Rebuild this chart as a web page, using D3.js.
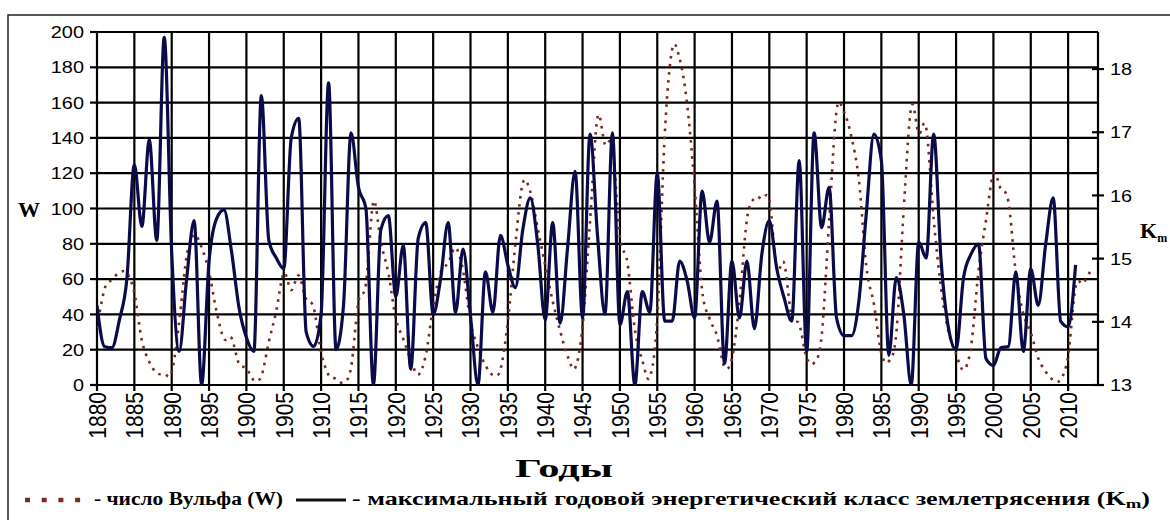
<!DOCTYPE html>
<html>
<head>
<meta charset="utf-8">
<script src="https://cdn.jsdelivr.net/npm/d3@7/dist/d3.min.js"></script>
<style>
  body { margin: 0; background: #fff; }
  svg { display: block; }
</style>
</head>
<body>
<svg id="chart" width="1170" height="520"></svg>
<script>
// ---- data ----
const wolfStart = 1880;                 // число Вульфа, годовые значения 1880-2013
const wolf = [
  32.3, 54.3, 59.7, 63.7, 63.5, 52.2, 25.4, 13.1, 6.8, 6.3,
  7.1, 35.6, 73.0, 85.1, 78.0, 64.0, 41.8, 26.2, 26.7, 12.1,
  9.5, 2.7, 5.0, 24.4, 42.0, 63.5, 53.8, 62.0, 48.5, 43.9,
  18.6, 5.7, 3.6, 1.4, 9.6, 47.4, 57.1, 103.9, 80.6, 63.6,
  37.6, 26.1, 14.2, 5.8, 16.7, 44.3, 63.9, 69.0, 77.8, 64.9,
  35.7, 21.2, 11.1, 5.7, 8.7, 36.1, 79.7, 114.4, 109.6, 88.8,
  67.8, 47.5, 30.6, 16.3, 9.6, 33.2, 92.6, 151.6, 136.3, 134.7,
  83.9, 69.4, 31.5, 13.9, 4.4, 38.0, 141.7, 190.2, 184.8, 159.0,
  112.3, 53.9, 37.6, 27.9, 10.2, 15.1, 47.0, 93.8, 105.9, 105.5,
  104.5, 66.6, 68.9, 38.0, 34.5, 15.5, 12.6, 27.5, 92.5, 155.4,
  154.6, 140.4, 115.9, 66.6, 45.9, 17.9, 13.4, 29.4, 100.2, 157.6,
  142.6, 145.7, 94.3, 54.6, 29.9, 17.5, 8.6, 21.5, 64.3, 93.3,
  119.6, 111.0, 104.0, 63.7, 40.4, 29.8, 15.2, 7.5, 2.9, 3.1,
  16.5, 55.7, 57.6, 64.7
];

const kmStart = 1880;                   // максимальный годовой энергетический класс Km, 1880-2011
const km = [
  14.26, 13.61, 13.59, 14.03, 14.68, 16.49, 15.51, 16.88, 15.29, 18.50,
  15.09, 13.53, 14.68, 15.60, 13.00, 14.96, 15.63, 15.77, 15.12, 14.23,
  13.75, 13.53, 17.58, 15.29, 15.01, 14.84, 16.91, 17.22, 13.84, 13.61,
  14.12, 17.78, 13.56, 14.26, 16.99, 16.13, 15.79, 13.00, 15.46, 15.68,
  14.40, 15.21, 13.25, 15.32, 15.57, 14.12, 14.68, 15.57, 14.15, 15.15,
  14.09, 13.00, 14.79, 14.15, 15.37, 14.90, 14.54, 15.46, 15.96, 15.23,
  14.03, 15.57, 13.98, 15.18, 16.38, 14.06, 16.97, 15.37, 14.12, 16.99,
  13.95, 14.48, 13.00, 14.48, 14.15, 16.35, 14.01, 14.01, 14.96, 14.65,
  14.06, 16.07, 15.26, 15.91, 13.34, 14.96, 14.06, 14.96, 13.89, 15.07,
  15.60, 14.84, 14.37, 14.01, 16.55, 13.53, 16.99, 15.49, 16.13, 14.06,
  13.78, 13.78, 14.34, 15.74, 16.97, 16.55, 13.47, 14.70, 14.12, 13.00,
  15.26, 15.01, 16.97, 14.96, 13.89, 13.56, 14.70, 15.07, 15.23, 13.42,
  13.31, 13.59, 13.61, 14.79, 13.53, 14.84, 14.26, 15.23, 15.96, 14.01,
  13.92, 14.90
];

const wTicks = [0, 20, 40, 60, 80, 100, 120, 140, 160, 180, 200];
const kmTicks = [13, 14, 15, 16, 17, 18];
const yearTicks = d3.range(1880, 2011, 5);

// ---- layout ----
const svg = d3.select('#chart');
const plotL = 97, plotR = 1098, plotT = 32, plotB = 385;
const SX = 1.17;                        // картинка растянута по горизонтали
const sans = 'Liberation Sans, Arial, sans-serif';
const serif = 'Liberation Serif, Times New Roman, serif';

const x = d3.scaleLinear().domain([1880, 2014]).range([plotL, plotR]);
const yW = d3.scaleLinear().domain([0, 200]).range([plotB, plotT]);
const yK = d3.scaleLinear().domain([13, 13 + 200 / 35.8]).range([plotB, plotT]);

// внешняя рамка
svg.append('rect')
  .attr('x', 8).attr('y', 15).attr('width', 1200).attr('height', 540)
  .attr('fill', 'none').attr('stroke', '#222').attr('stroke-width', 1.5);

// сетка
const grid = svg.append('g').attr('stroke', '#000').attr('stroke-width', 2.2);
grid.selectAll('.h').data(wTicks).join('line')
  .attr('x1', plotL).attr('x2', plotR)
  .attr('y1', d => yW(d)).attr('y2', d => yW(d));
grid.selectAll('.v').data(yearTicks).join('line')
  .attr('x1', d => x(d)).attr('x2', d => x(d))
  .attr('y1', plotT).attr('y2', plotB + 6);
grid.append('line').attr('x1', plotR).attr('x2', plotR).attr('y1', plotT).attr('y2', plotB);

// деления осей
grid.selectAll('.tl').data(wTicks).join('line')
  .attr('x1', plotL - 7).attr('x2', plotL)
  .attr('y1', d => yW(d)).attr('y2', d => yW(d));
grid.selectAll('.tr').data(kmTicks).join('line')
  .attr('x1', plotR - 6).attr('x2', plotR + 6)
  .attr('y1', d => yK(d)).attr('y2', d => yK(d));

// подписи делений
function stretched(g, px, py, str) {
  return g.append('text')
    .attr('transform', `translate(${px},${py}) scale(${SX},1)`)
    .text(str);
}
const labels = svg.append('g').attr('fill', '#000').attr('font-family', sans).attr('font-size', 17);
wTicks.forEach(d => stretched(labels, 84, yW(d), d).attr('text-anchor', 'end').attr('dy', '0.36em'));
kmTicks.forEach(d => stretched(labels, 1110, yK(d), d).attr('dy', '0.36em'));
yearTicks.forEach(d => {
  labels.append('text')
    .attr('transform', `translate(${x(d)},${plotB + 7}) scale(${SX},1) rotate(-90)`)
    .attr('text-anchor', 'end').attr('dy', '0.36em')
    .attr('font-size', 21)
    .text(d);
});

// линии
svg.append('clipPath').attr('id', 'plot')
  .append('rect').attr('x', plotL).attr('y', plotT - 2).attr('width', plotR - plotL).attr('height', plotB - plotT + 3);

const wolfLine = d3.line()
  .x((d, i) => x(wolfStart + i))
  .y(d => yW(d))
  .curve(d3.curveCardinal.tension(0));
const kmLine = d3.line()
  .x((d, i) => x(kmStart + i))
  .y(d => yK(d))
  .curve(d3.curveMonotoneX);

const lines = svg.append('g').attr('clip-path', 'url(#plot)').attr('fill', 'none');
lines.append('path').datum(wolf)
  .attr('d', wolfLine)
  .attr('stroke', '#7a2a1c').attr('stroke-width', 2.6)
  .attr('stroke-dasharray', '2.6,5.5');
lines.append('path').datum(km)
  .attr('d', kmLine)
  .attr('stroke', '#0b0b4a').attr('stroke-width', 3.2)
  .attr('stroke-linejoin', 'round');

// названия осей
const titles = svg.append('g').attr('font-family', serif).attr('font-weight', 'bold').attr('fill', '#000');
titles.append('text').attr('x', 18).attr('y', 217).attr('font-size', 22)
  .attr('textLength', 22).attr('lengthAdjust', 'spacingAndGlyphs').text('W');
const kmTitle = titles.append('text').attr('x', 1140).attr('y', 238).attr('font-size', 22);
kmTitle.append('tspan').text('K');
kmTitle.append('tspan').attr('font-size', 12).attr('dy', 4).text('m');
titles.append('text').attr('x', 515).attr('y', 477).attr('font-size', 26)
  .attr('textLength', 98).attr('lengthAdjust', 'spacingAndGlyphs').text('Годы');

// легенда
const legend = svg.append('g');
legend.append('line')
  .attr('x1', 25).attr('x2', 82).attr('y1', 500).attr('y2', 500)
  .attr('stroke', '#7a2a1c').attr('stroke-width', 4.5).attr('stroke-dasharray', '5,11.7');
legend.append('line')
  .attr('x1', 296).attr('x2', 346).attr('y1', 500).attr('y2', 500)
  .attr('stroke', '#111').attr('stroke-width', 3);
const lt = legend.append('g').attr('font-family', serif).attr('font-weight', 'bold').attr('font-size', 18).attr('fill', '#000');
lt.append('text').attr('x', 94).attr('y', 505)
  .attr('textLength', 189).attr('lengthAdjust', 'spacingAndGlyphs')
  .text('- число Вульфа (W)');
const l2 = lt.append('text').attr('x', 352).attr('y', 505)
  .attr('textLength', 798).attr('lengthAdjust', 'spacingAndGlyphs');
l2.append('tspan').text('- максимальный годовой энергетический класс землетрясения (K');
l2.append('tspan').attr('font-size', 13).attr('dy', 3).text('m');
l2.append('tspan').attr('dy', -3).text(')');
</script>
</body>
</html>
